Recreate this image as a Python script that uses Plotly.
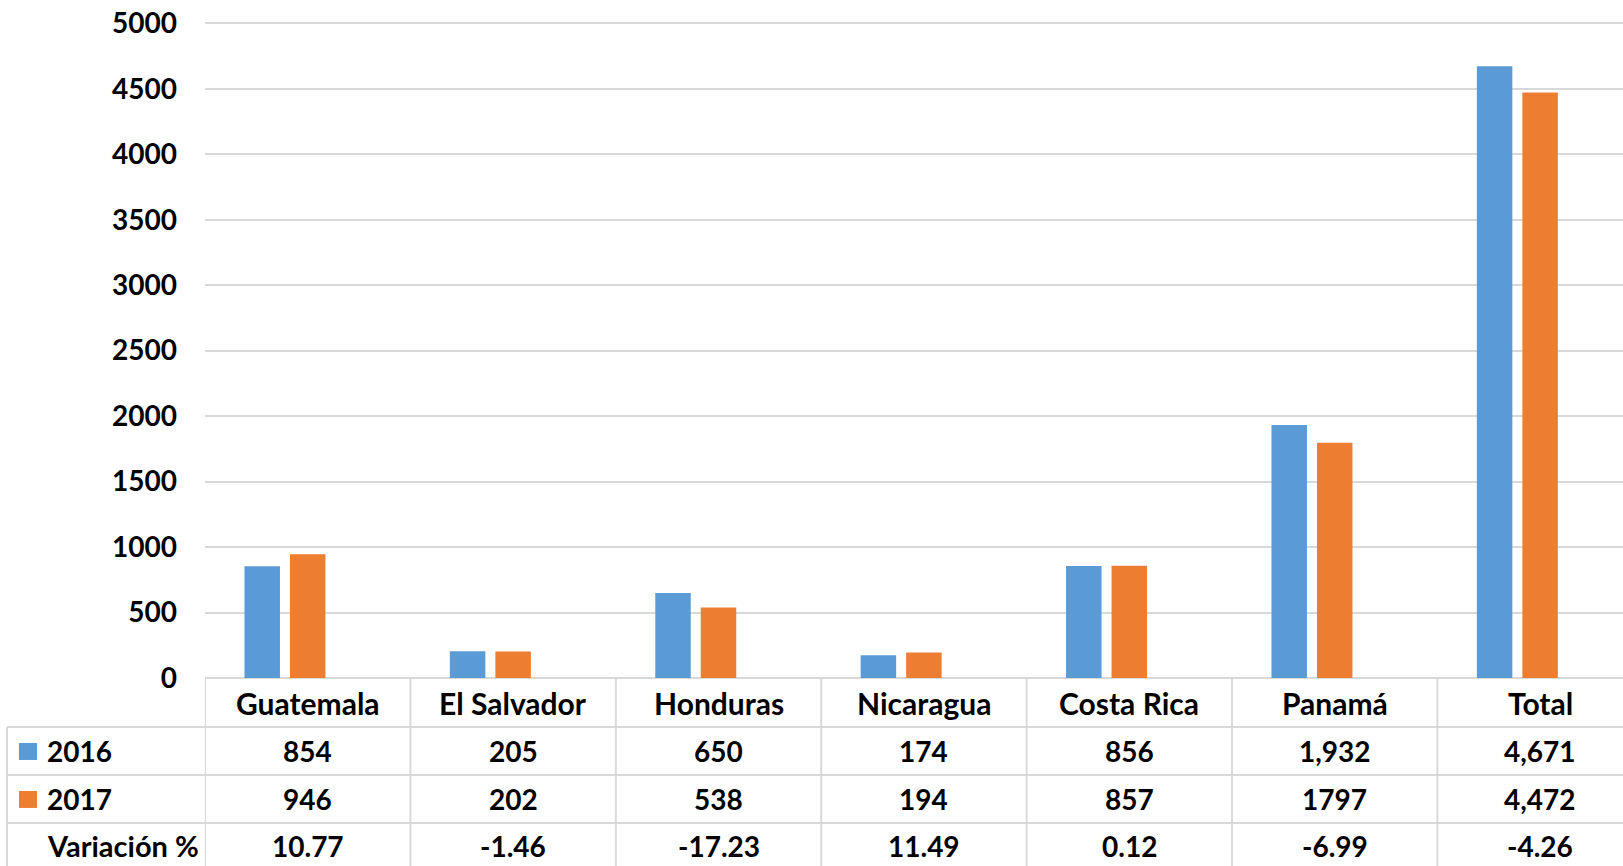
import plotly.graph_objects as go

# ---- data ----
categories = ["Guatemala", "El Salvador", "Honduras", "Nicaragua", "Costa Rica", "Panamá", "Total"]
values_2016 = [854, 205, 650, 174, 856, 1932, 4671]
values_2017 = [946, 202, 538, 194, 857, 1797, 4472]
variacion = [10.77, -1.46, -17.23, 11.49, 0.12, -6.99, -4.26]
labels_2016 = ["854", "205", "650", "174", "856", "1,932", "4,671"]
labels_2017 = ["946", "202", "538", "194", "857", "1797", "4,472"]
labels_var = ["10.77", "-1.46", "-17.23", "11.49", "0.12", "-6.99", "-4.26"]
row_names = ["2016", "2017", "Variación %"]
y_ticks = [0, 500, 1000, 1500, 2000, 2500, 3000, 3500, 4000, 4500, 5000]

# ---- styling ----
W, H = 1623, 866
PLOT_LEFT, PLOT_TOP, PLOT_BOTTOM = 205, 23, 678   # page pixels (position of 5000 and 0)
Y_TOP = 5025                                        # small headroom so the 5000 gridline is drawn
PH = (PLOT_BOTTOM - PLOT_TOP) * Y_TOP / 5000
ML = PLOT_LEFT
MB = H - PLOT_BOTTOM
MT = H - MB - PH
PW = W - ML
BLUE = "#5B9BD5"
ORANGE = "#ED7D31"
GRID = "#D9D9D9"
FONT = dict(family="Lato, Carlito, 'Open Sans', sans-serif", size=28, color="#000000", weight=700)
FONT_HDR = dict(FONT, size=30)
FONT_ROW = dict(FONT, size=29)


def py(p):
    """page pixel row -> paper y"""
    return (PLOT_BOTTOM - p) / PH


def px(p):
    """page pixel column -> paper x"""
    return (p - PLOT_LEFT) / PW


fig = go.Figure()
fig.add_trace(go.Bar(x=categories, y=values_2016, name="2016", marker=dict(color=BLUE, line=dict(width=0)),
                     hoverinfo="x+y"))
fig.add_trace(go.Bar(x=categories, y=values_2017, name="2017", marker=dict(color=ORANGE, line=dict(width=0)),
                     hoverinfo="x+y"))
fig.add_trace(go.Bar(x=categories, y=variacion, name="Variación %",
                     marker=dict(color="rgba(0,0,0,0)", line=dict(width=0)), hoverinfo="skip"))

cat_w = 205.4
x_max = -0.5 + PW / cat_w

shapes = []
line_style = dict(color=GRID, width=2)
# horizontal row lines
for r in [727, 775, 823]:
    shapes.append(dict(type="line", xref="paper", yref="paper", x0=px(7), x1=1.0, y0=py(r), y1=py(r),
                       line=line_style, layer="above"))
# left border of row-label column
shapes.append(dict(type="line", xref="paper", yref="paper", x0=px(7), x1=px(7), y0=py(727), y1=py(H + 10),
                   line=line_style))
# vertical column separators at category boundaries
for i in range(len(categories)):
    xb = i - 0.5
    shapes.append(dict(type="line", xref="x", yref="paper", x0=xb, x1=xb, y0=0, y1=py(H + 10),
                       line=line_style))
# legend keys
shapes.append(dict(type="rect", xref="paper", yref="paper", x0=px(19), x1=px(37), y0=py(760), y1=py(743),
                   fillcolor=BLUE, line=dict(width=0)))
shapes.append(dict(type="rect", xref="paper", yref="paper", x0=px(19), x1=px(37), y0=py(808), y1=py(791),
                   fillcolor=ORANGE, line=dict(width=0)))

annotations = []
row_centers = [703, 751, 799, 846]
for cat, l16, l17, lv in zip(categories, labels_2016, labels_2017, labels_var):
    for j, (txt, rc) in enumerate(zip([cat, l16, l17, lv], row_centers)):
        annotations.append(dict(x=cat, xref="x", y=py(rc), yref="paper", text=txt, showarrow=False,
                                xanchor="center", yanchor="middle", font=FONT_HDR if j == 0 else FONT))
for name, rc in zip(row_names, row_centers[1:]):
    annotations.append(dict(x=px(45), xref="paper", y=py(rc), yref="paper", text=name, showarrow=False,
                            xanchor="left", yanchor="middle",
                            font=FONT if name.isdigit() else FONT_ROW))

fig.update_layout(
    width=W, height=H,
    margin=dict(l=ML, r=0, t=MT, b=MB, pad=0),
    paper_bgcolor="white", plot_bgcolor="white",
    barmode="group", bargap=0.3355, bargroupgap=0.22,
    showlegend=False,
    font=FONT,
    shapes=shapes,
    annotations=annotations,
    xaxis=dict(range=[-0.5, x_max], showticklabels=False, showgrid=False, zeroline=False,
               showline=False, ticks="", fixedrange=True),
    yaxis=dict(range=[0, Y_TOP], tickvals=y_ticks, ticktext=[str(v) for v in y_ticks],
               showgrid=True, gridcolor=GRID, gridwidth=2,
               zeroline=True, zerolinecolor=GRID, zerolinewidth=2,
               showline=False, ticks="", ticklabelstandoff=27, tickfont=FONT, fixedrange=True),
)

# remove the browser's default 8px page margin so the figure sits at the window origin
fig.write_html("out.html", config={"displayModeBar": False},
               post_script="document.body.style.margin='0';document.body.style.overflow='hidden';")
